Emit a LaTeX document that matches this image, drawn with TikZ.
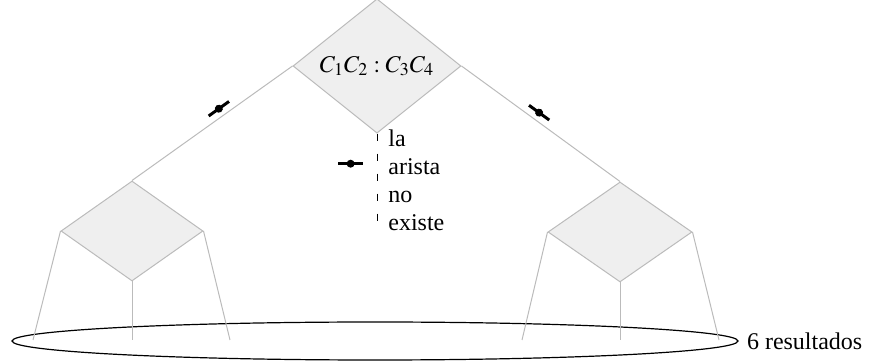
\documentclass[tikz,border=0pt]{standalone}
\usepackage{mathptmx}
\usepackage{fontspec}
\setmainfont{Liberation Serif}
\usetikzlibrary{shapes.geometric}
\definecolor{borde}{HTML}{BBBBBB}
\definecolor{relleno}{HTML}{EFEFEF}
\newcommand{\marca}{\tikz{\draw[line width=1.5pt] (0,0) -- (12.5pt,0); \fill (6.25pt,0) circle (2pt);}}
\tikzset{
  rombo/.style={diamond, draw=borde, fill=relleno, inner sep=0pt, line width=0.5pt},
  rama/.style={draw=borde, line width=0.5pt},
}

\begin{document}
\begin{tikzpicture}[x=0.5pt,y=0.5pt,every node/.style={font=\fontsize{12}{14}\selectfont}]
        \useasboundingbox (0,0) rectangle (871,363);
        % arbol
        \node[rombo, minimum width=84pt, minimum height=58pt] (raiz) at (377,297) {$C_1C_2:C_3C_4$};
        \node[rombo, minimum width=71pt, minimum height=50pt] (izq) at (132,132) {};
        \node[rombo, minimum width=72pt, minimum height=50pt] (der) at (620,131) {};
        \draw[rama] (raiz.west) -- node[sloped, above, pos=0.43, inner sep=1.8pt] (m1) {\marca} (izq.north);
        \draw[rama] (raiz.east) -- node[sloped, above, pos=0.46, inner sep=1.8pt] (m2) {\marca} (der.north);
        % arista que no existe
        \coordinate (fin) at ([yshift=-45.5pt]raiz.south);
        \draw[dash pattern=on 3.5pt off 6.5pt, line width=0.5pt] (raiz.south) -- node[left, pos=0.33, inner sep=6pt] (m3) {\marca} (fin);
        \node[anchor=north west, align=left, inner sep=2pt] (nota) at ([xshift=3.5pt,yshift=4pt]raiz.south) {la\\arista\\no\\existe};
        % hojas
        \node[ellipse, draw, line width=0.6pt, inner sep=0pt, minimum width=363pt, minimum height=19pt] (conjunto) at (375,22) {};
        \node[anchor=west, inner sep=4pt] (total) at (conjunto.east) {6 resultados};
        \coordinate (h1) at (33,23);
        \coordinate (h2) at (132,23);
        \coordinate (h3) at (230,23);
        \coordinate (h4) at (522,23);
        \coordinate (h5) at (620,23);
        \coordinate (h6) at (719,23);
        \draw[rama] (izq.west) -- (h1);
        \draw[rama] (izq.south) -- (h2);
        \draw[rama] (izq.east) -- (h3);
        \draw[rama] (der.west) -- (h4);
        \draw[rama] (der.south) -- (h5);
        \draw[rama] (der.east) -- (h6);
\end{tikzpicture}
\end{document}
